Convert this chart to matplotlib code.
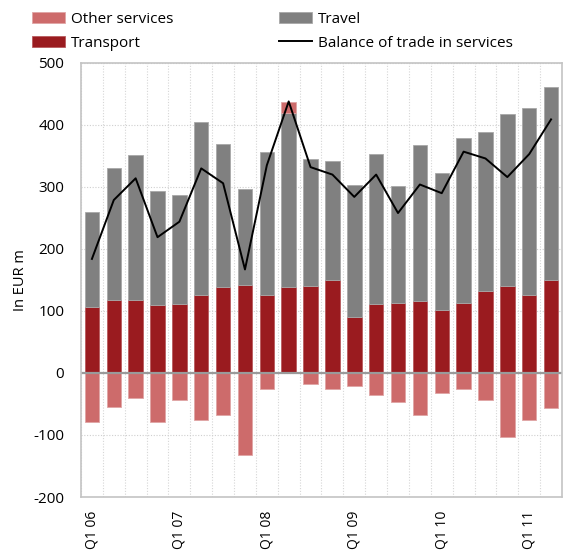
import matplotlib.pyplot as plt
import numpy as np

plt.rcParams['font.family'] = ['Open Sans', 'DejaVu Sans']
plt.rcParams['axes.unicode_minus'] = False

quarters = ["Q1 06", "Q2 06", "Q3 06", "Q4 06",
            "Q1 07", "Q2 07", "Q3 07", "Q4 07",
            "Q1 08", "Q2 08", "Q3 08", "Q4 08",
            "Q1 09", "Q2 09", "Q3 09", "Q4 09",
            "Q1 10", "Q2 10", "Q3 10", "Q4 10",
            "Q1 11", "Q2 11"]

transport = [106, 118, 118, 109, 111, 126, 138, 142, 126, 138, 141, 150,
             90, 111, 113, 116, 102, 113, 133, 141, 126, 150]
travel = [153, 213, 234, 185, 176, 279, 232, 154, 230, 281, 204, 192,
          213, 243, 188, 252, 220, 266, 256, 276, 302, 311]
other = [-79, -55, -41, -79, -44, -76, -67, -132, -26, 18, -17, -26,
         -21, -35, -47, -67, -33, -26, -44, -104, -76, -56]
balance = [184, 279, 314, 219, 244, 330, 306, 167, 335, 438, 332, 320,
           284, 320, 258, 304, 290, 357, 346, 316, 353, 409]

c_other = "#cd6b6b"
c_transport = "#9a1b1f"
c_travel = "#808080"

x = np.arange(len(quarters))
transport = np.array(transport)
travel = np.array(travel)
other = np.array(other)

fig = plt.figure(figsize=(5.72, 5.51), dpi=100)
ax = fig.add_axes([0.1416, 0.098, 0.8409, 0.7877])

w = 0.66
b_tr = ax.bar(x, transport, w, color=c_transport, edgecolor="#b85a5d",
              linewidth=0.6, zorder=2)
b_tv = ax.bar(x, travel, w, bottom=transport, color=c_travel,
              edgecolor="#a8a8a8", linewidth=0.6, zorder=2)
# other services sit below zero, or on top of the stack when positive
other_bottom = np.where(other > 0, transport + travel, 0)
b_ot = ax.bar(x, other, w, bottom=other_bottom, color=c_other,
              edgecolor="#e0a5a5", linewidth=0.6, zorder=2)
ln, = ax.plot(x, balance, color="black", linewidth=1.4, zorder=3)

ax.axhline(0, color="#9a9a9a", linewidth=1.6, zorder=2.5)

ax.set_xlim(-0.5, len(quarters) - 0.5)
ax.set_ylim(-200, 500)
ax.set_yticks(range(-200, 501, 100))
ax.set_xticks(x[::4])
ax.set_xticklabels(quarters[::4], rotation=90, fontsize=10)
ax.tick_params(axis="x", length=0, pad=10)
ax.tick_params(axis="y", length=0, pad=12, labelsize=11)
ax.set_xticks(np.arange(-0.5, len(quarters)), minor=True)
ax.tick_params(which="minor", length=0)

ax.grid(True, which="minor", axis="x", linestyle=(0, (1, 1.5)),
        color="#d6d6d6", linewidth=0.8, zorder=0)
ax.grid(True, which="major", axis="y", linestyle=(0, (1, 1.5)),
        color="#cfcfcf", linewidth=0.8, zorder=0)
ax.set_axisbelow(True)

for s in ax.spines.values():
    s.set_color("#c4c4c4")
    s.set_linewidth(1.2)

ax.set_ylabel("In EUR m", fontsize=10.5)
ax.yaxis.set_label_coords(-0.11, 0.5)

fig.legend([b_ot, b_tr, b_tv, ln],
           ["Other services", "Transport", "Travel",
            "Balance of trade in services"],
           loc="upper left", bbox_to_anchor=(0.045, 0.99), ncol=2,
           frameon=False, fontsize=11, handlelength=2.2, handleheight=0.75,
           handletextpad=0.35, columnspacing=6.9, labelspacing=0.6,
           borderaxespad=0)

fig.savefig("out.png", dpi=100)
